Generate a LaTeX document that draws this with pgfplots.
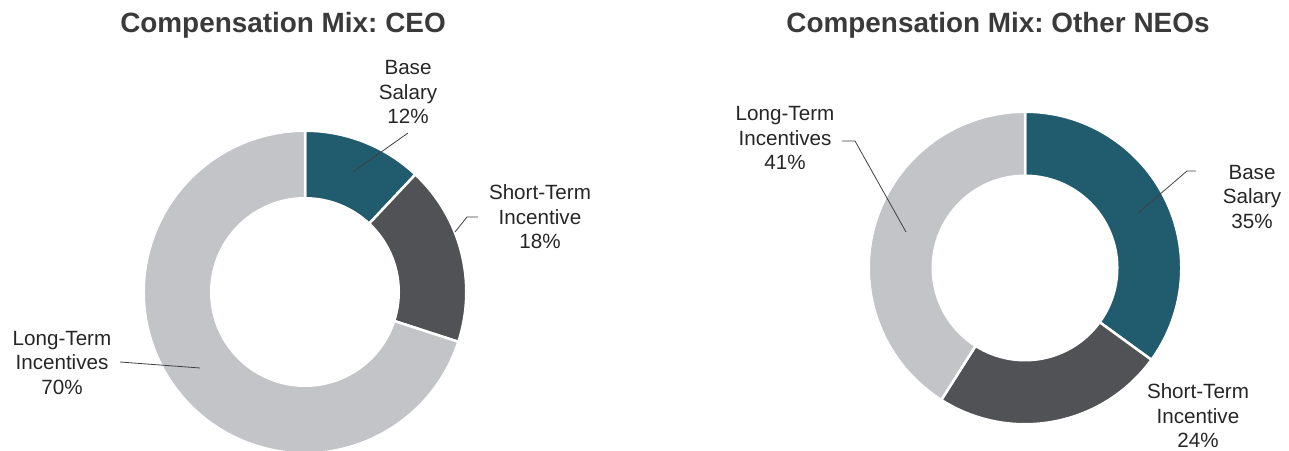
\documentclass[border=0pt]{standalone}
\usepackage{pgfplots}
\pgfplotsset{compat=1.18}
\usepackage{fontspec}
\setmainfont{Liberation Sans}
\frenchspacing

\definecolor{base}{HTML}{215C6E}
\definecolor{sti}{HTML}{515256}
\definecolor{lti}{HTML}{C3C4C7}
\definecolor{txt}{HTML}{262626}
\definecolor{ttl}{HTML}{3A3A3A}
\definecolor{lead}{HTML}{404040}

% \slice{colour}{start %}{share %}{outer radius}{inner radius}
% slices run clockwise from 12 o'clock, as in the original
\newcommand\slice[5]{%
  \fill[#1, draw=white, line width=2.5bp]
    ([shift={({90-3.6*#2}:#4)}]axis cs:0,0)
    arc[start angle={90-3.6*#2}, end angle={90-3.6*(#2+#3)}, radius=#4]
    -- ([shift={({90-3.6*(#2+#3)}:#5)}]axis cs:0,0)
    arc[start angle={90-3.6*(#2+#3)}, end angle={90-3.6*#2}, radius=#5]
    -- cycle;}

\pgfplotsset{donut/.style={
    anchor=center, scale only axis,
    xmin=-1, xmax=1, ymin=-1, ymax=1,
    hide axis, clip=false}}

\tikzset{
  lbl/.style={font=\fontsize{20.7}{24.5}\selectfont, align=center, text=txt, inner sep=0pt},
  ttl/.style={font=\fontsize{28}{32}\selectfont\bfseries, text=ttl, inner sep=0pt},
  lead/.style={draw=lead, line width=0.8bp}}

\begin{document}
\begin{tikzpicture}[x=1bp, y=1bp]
\useasboundingbox (0,0) rectangle (1289,451);

% ---- CEO ----
\begin{axis}[donut, at={(305bp,159bp)}, width=322bp, height=322bp]
\slice{base}{0}{12}{161.25bp}{93.75bp}
\slice{sti}{12}{18}{161.25bp}{93.75bp}
\slice{lti}{30}{70}{161.25bp}{93.75bp}
\end{axis}

% ---- Other NEOs ----
\begin{axis}[donut, at={(1025bp,183bp)}, width=312bp, height=312bp]
\slice{base}{0}{35}{156.25bp}{92.25bp}
\slice{sti}{35}{24}{156.25bp}{92.25bp}
\slice{lti}{59}{41}{156.25bp}{92.25bp}
\end{axis}

% titles
\node[ttl] at (283,{451-25}) {Compensation Mix: CEO};
\node[ttl] at (998,{451-25}) {Compensation Mix: Other NEOs};

% CEO labels
\node[lbl] at (408,{451-92}) {Base\\Salary\\12\%};
\draw[lead] (353,{451-172}) -- (408,{451-133});
\node[lbl] at (540,{451-217}) {Short-Term\\Incentive\\18\%};
\draw[lead] (455,{451-232}) -- (467,{451-217}) -- (478,{451-217});
\node[lbl] at (62,{451-363}) {Long-Term\\Incentives\\70\%};
\draw[lead] (120,{451-362}) -- (200,{451-368});

% Other NEOs labels
\node[lbl] at (785,{451-138}) {Long-Term\\Incentives\\41\%};
\draw[lead] (842,{451-141}) -- (855,{451-141}) -- (906,{451-232});
\node[lbl] at (1252,{451-197}) {Base\\Salary\\35\%};
\draw[lead] (1138,{451-213}) -- (1187,{451-171}) -- (1196,{451-171});
\node[lbl] at (1198,{451-416}) {Short-Term\\Incentive\\24\%};
\end{tikzpicture}
\end{document}
